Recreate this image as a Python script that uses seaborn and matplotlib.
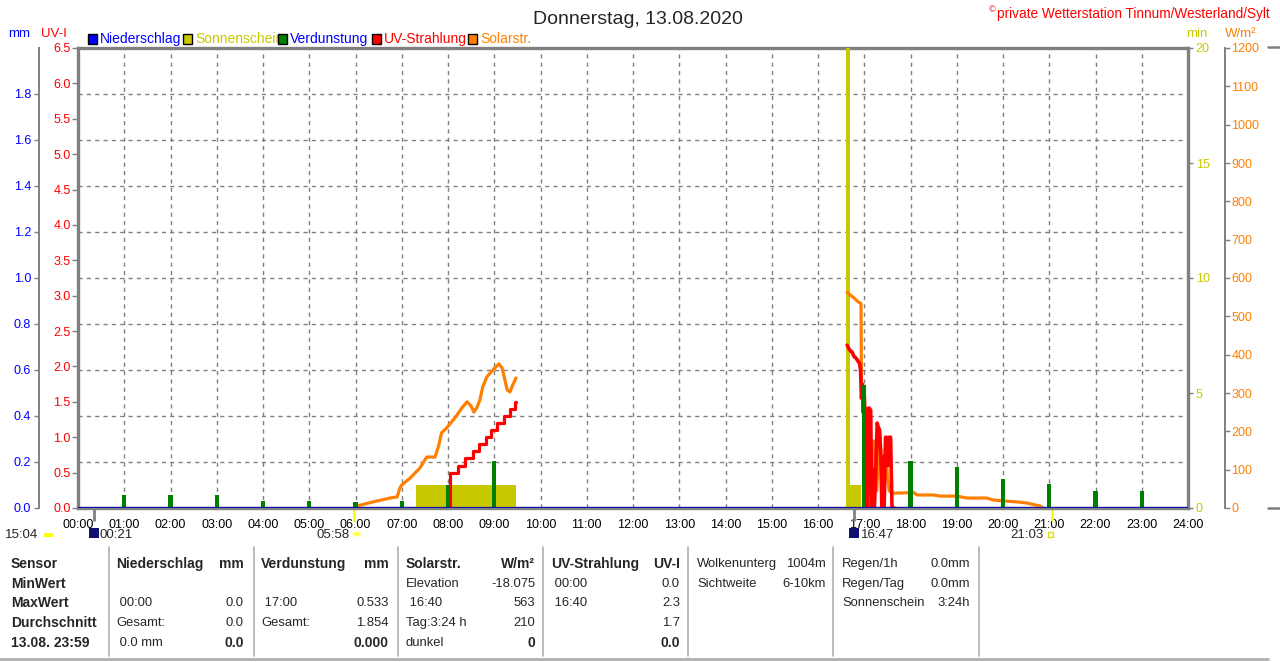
import numpy as np
import pandas as pd
import matplotlib
matplotlib.use("Agg")
import matplotlib.pyplot as plt
import matplotlib.transforms as mtransforms
from matplotlib.patches import Rectangle
from matplotlib.lines import Line2D
import seaborn as sns

# =====================================================================
# DATA (13.08.2020)
# =====================================================================
HOURS = list(range(25))
HOUR_LABELS = [f"{h:02d}:00" for h in HOURS]

MM_TICKS = [0.0, 0.2, 0.4, 0.6, 0.8, 1.0, 1.2, 1.4, 1.6, 1.8]
UV_TICKS = [0.0, 0.5, 1.0, 1.5, 2.0, 2.5, 3.0, 3.5, 4.0, 4.5, 5.0, 5.5, 6.0, 6.5]
MIN_TICKS = [0, 5, 10, 15, 20]
W_TICKS = [0, 100, 200, 300, 400, 500, 600, 700, 800, 900, 1000, 1100, 1200]

# Niederschlag (mm) - flat all day
rain_t = [0.0, 24.0]
rain_mm = [0.0, 0.0]

# Verdunstung, hourly (mm)
evap_h = [1, 2, 3, 4, 5, 6, 7, 8, 9, 17, 18, 19, 20, 21, 22, 23]
evap_mm = [0.056, 0.056, 0.056, 0.030, 0.030, 0.026, 0.030, 0.100, 0.204,
           0.533, 0.204, 0.178, 0.126, 0.104, 0.074, 0.074]

# Sonnenschein blocks (min)
sun_start = [7.31, 16.60, 16.69]
sun_end = [9.47, 16.69, 16.93]
sun_min = [1.0, 20.0, 1.0]

# Solarstrahlung (W/m²)
solar_t1 = [5.97, 6.03, 6.38, 6.75, 6.90, 6.96, 7.00, 7.18, 7.39, 7.54, 7.72, 7.79,
            7.86, 7.97, 8.15, 8.30, 8.41, 8.50, 8.56, 8.62, 8.69, 8.75, 8.84, 8.97,
            9.10, 9.17, 9.23, 9.28, 9.34, 9.40, 9.47]
solar_w1 = [0, 5, 16, 26, 29, 52, 60, 78, 104, 133, 133, 159,
            196, 209, 235, 261, 277, 266, 250, 261, 282, 316, 342, 360,
            376, 365, 334, 308, 303, 321, 339]
solar_t2 = [16.63, 16.70, 16.76, 16.82, 16.88, 16.93, 16.94, 16.97, 17.00, 17.03,
            17.06, 17.10, 17.14, 17.17, 17.20, 17.23, 17.27, 17.30, 17.33, 17.36,
            17.40, 17.44, 17.47, 17.50, 17.54, 17.60, 17.80, 17.95, 18.05, 18.14,
            18.50, 18.64, 19.00, 19.22, 19.65, 19.79, 20.04, 20.30, 20.52, 20.80, 20.87]
solar_w2 = [563, 555, 550, 543, 537, 533, 330, 270, 210, 160,
            110, 65, 45, 150, 175, 60, 45, 120, 205, 150,
            60, 130, 170, 80, 45, 39, 39, 40, 42, 34,
            34, 31, 31, 26, 26, 21, 18, 16, 13, 5, 0]

# UV-Strahlung (UV-I)
uv_t1 = [8.03, 8.04, 8.21, 8.37, 8.53, 8.68, 8.83, 8.94, 9.07, 9.21, 9.33, 9.45, 9.47]
uv_v1 = [0.0, 0.5, 0.6, 0.7, 0.8, 0.9, 1.0, 1.1, 1.2, 1.3, 1.4, 1.5, 1.5]
uv_t2 = [16.63, 16.66, 16.70, 16.74, 16.78, 16.82, 16.86, 16.90, 16.92, 16.94,
         16.96, 16.98, 17.00, 17.02, 17.04, 17.06, 17.07, 17.09, 17.11, 17.14,
         17.16, 17.18, 17.20, 17.22, 17.25, 17.28, 17.30, 17.33, 17.36, 17.38,
         17.41, 17.43, 17.46, 17.48, 17.51, 17.54, 17.57, 17.60, 17.62, 17.65]
uv_v2 = [2.30, 2.26, 2.22, 2.20, 2.14, 2.12, 2.08, 2.04, 1.95, 1.55,
         1.75, 1.35, 1.60, 1.25, 1.40, 1.29, 0.00, 1.41, 1.41, 1.38,
         0.00, 0.55, 0.00, 0.00, 0.55, 1.20, 1.15, 1.10, 0.70, 0.00,
         0.72, 0.00, 1.00, 1.00, 0.60, 1.00, 1.00, 0.00, 0.00, 0.00]

# sun / moon events on the time axis
sun_events = [5.97, 21.05]
moon_events = [0.35, 16.78]

# =====================================================================
# STYLE
# =====================================================================
sns.set_theme(style="white")
plt.rcParams['font.family'] = ['Liberation Sans', 'DejaVu Sans']

BLUE = '#0000ff'
NAVY = '#1010b0'
OLIVE = '#c8c800'
GREEN = '#008000'
RED = '#ff0000'
ORANGE = '#ff8000'
GREY = '#808080'
W, H = 1280, 662
PX = 72 / 100  # points per pixel at dpi 100


def fx(x):
    return x / W


def fy(y):
    return 1 - y / H


fig = plt.figure(figsize=(12.8, 6.62), dpi=100, facecolor='white')
ax = fig.add_axes([fx(78), fy(508), 1110 / W, 460 / H])  # mm axis + grid
ax_min = ax.twinx()
ax_w = ax.twinx()
ax_uv = ax.twinx()
ax_ev = ax.twinx()
for z, a in enumerate([ax, ax_min, ax_w, ax_uv, ax_ev]):
    a.set_zorder(z)
    a.patch.set_visible(False)
    for s in a.spines.values():
        s.set_visible(False)
ax.patch.set_visible(True)
ax.patch.set_facecolor('white')

# =====================================================================
# MARKS
# =====================================================================
ax_min.bar(sun_start, sun_min, width=np.array(sun_end) - np.array(sun_start),
           align='edge', color=OLIVE, linewidth=0)

df_s1 = pd.DataFrame({'t': solar_t1, 'w': solar_w1})
df_s2 = pd.DataFrame({'t': solar_t2, 'w': solar_w2})
sns.lineplot(data=df_s1, x='t', y='w', ax=ax_w, color=ORANGE, linewidth=2.3, estimator=None)
sns.lineplot(data=df_s2, x='t', y='w', ax=ax_w, color=ORANGE, linewidth=2.3, estimator=None)

df_u1 = pd.DataFrame({'t': uv_t1, 'uv': uv_v1})
df_u2 = pd.DataFrame({'t': uv_t2, 'uv': uv_v2})
sns.lineplot(data=df_u1, x='t', y='uv', ax=ax_uv, color=RED, linewidth=2.3,
             estimator=None, drawstyle='steps-post')
sns.lineplot(data=df_u2, x='t', y='uv', ax=ax_uv, color=RED, linewidth=2.6, estimator=None)

ax_ev.bar(evap_h, evap_mm, width=0.09, color=GREEN, linewidth=0)
sns.lineplot(x=rain_t, y=rain_mm, ax=ax_ev, color=NAVY, linewidth=1.6, estimator=None)

# =====================================================================
# AXES
# =====================================================================
for a in [ax, ax_min, ax_w, ax_uv, ax_ev]:
    a.set_xlim(0, 24)
    a.set_xlabel('')
    a.set_ylabel('')
ax.set_ylim(0, 2.0)
ax_ev.set_ylim(0, 2.0)
ax_uv.set_ylim(0, 6.5)
ax_min.set_ylim(0, 20)
ax_w.set_ylim(0, 1200)

ax.set_xticks(HOURS)
ax.set_xticklabels(HOUR_LABELS)
ax.tick_params(axis='x', length=0, pad=8, labelsize=9, labelcolor='black')

ax.set_yticks(MM_TICKS)
ax.set_yticklabels([f"{v:.1f}" for v in MM_TICKS])
ax.spines['left'].set_visible(True)
ax.spines['left'].set_position(('outward', 39 * PX))
ax.spines['left'].set_color(GREY)
ax.spines['left'].set_linewidth(1.4)
for side in ['top', 'bottom']:
    ax.spines[side].set_visible(True)
    ax.spines[side].set_color(GREY)
    ax.spines[side].set_linewidth(2.4)
ax.tick_params(axis='y', left=True, length=5 * PX, width=1, color=GREY, pad=2,
               labelsize=9, labelcolor=BLUE)
ax.grid(True, color=GREY, linestyle=(0, (3, 3)), linewidth=1)

ax_uv.yaxis.tick_left()
ax_uv.set_yticks(UV_TICKS)
ax_uv.set_yticklabels([f"{v:.1f}" for v in UV_TICKS])
ax_uv.spines['left'].set_visible(True)
ax_uv.spines['left'].set_color(GREY)
ax_uv.spines['left'].set_linewidth(2.4)
ax_uv.tick_params(axis='y', left=True, right=False, length=6 * PX, width=1, color=GREY,
                  pad=1, labelsize=9, labelcolor=RED)

ax_min.yaxis.tick_right()
ax_min.set_yticks(MIN_TICKS)
ax_min.spines['right'].set_visible(True)
ax_min.spines['right'].set_color(GREY)
ax_min.spines['right'].set_linewidth(2.4)
ax_min.tick_params(axis='y', right=True, length=5 * PX, width=1, color=GREY, pad=2,
                   labelsize=9, labelcolor=OLIVE)

ax_w.yaxis.tick_right()
ax_w.set_yticks(W_TICKS)
ax_w.spines['right'].set_visible(True)
ax_w.spines['right'].set_position(('outward', 37 * PX))
ax_w.spines['right'].set_color(GREY)
ax_w.spines['right'].set_linewidth(1.4)
ax_w.tick_params(axis='y', right=True, length=5 * PX, width=1, color=GREY, pad=1,
                 labelsize=9, labelcolor=ORANGE)

ax_ev.set_yticks([])

# event markers just below the time axis
trans = mtransforms.blended_transform_factory(ax.transData, ax.transAxes)
for t in sun_events:
    ax.add_line(Line2D([t, t], [0, -0.026], transform=trans, color='#ffff00',
                       linewidth=2, clip_on=False))
for t in moon_events:
    ax.add_line(Line2D([t, t], [0, -0.026], transform=trans, color=GREY,
                       linewidth=2, clip_on=False))

# =====================================================================
# HEADER TEXT + LEGEND
# =====================================================================
fig.text(0.498, fy(19), "Donnerstag, 13.08.2020", ha='center', va='center', fontsize=14)
fig.text(fx(989), fy(10), "©", ha='left', va='center', fontsize=6.5, color=RED)
fig.text(fx(997), fy(14), "private Wetterstation Tinnum/Westerland/Sylt", ha='left',
         va='center', fontsize=9.8, color=RED)

fig.text(fx(8), fy(34), "mm", ha='left', va='center', fontsize=9.5, color=BLUE)
fig.text(fx(41), fy(34), "UV-I", ha='left', va='center', fontsize=9.5, color=RED)
fig.text(fx(1197), fy(34), "min", ha='center', va='center', fontsize=9.5, color=OLIVE)
fig.text(fx(1241), fy(34), "W/m²", ha='center', va='center', fontsize=9.5, color=ORANGE)

legend_items = [(88, BLUE, "Niederschlag", BLUE), (183, OLIVE, "Sonnenschein", OLIVE),
                (278, GREEN, "Verdunstung", BLUE), (372, RED, "UV-Strahlung", RED),
                (468, ORANGE, "Solarstr.", ORANGE)]
for x0, fc, label, tc in legend_items:
    fig.text(fx(x0 + 12), fy(39), label, ha='left', va='center', fontsize=10, color=tc)
    fig.add_artist(Rectangle((fx(x0), fy(44)), 9 / W, 10 / H, transform=fig.transFigure,
                             facecolor=fc, edgecolor='black', linewidth=1, zorder=10))

# little grey stubs right of the plot
for yy in [47, 508]:
    fig.add_artist(Line2D([fx(1268), fx(1280)], [fy(yy), fy(yy)], color=GREY, linewidth=1.8))

# =====================================================================
# SUN / MOON TIMES
# =====================================================================
fig.text(fx(5), fy(535), "15:04", ha='left', va='center', fontsize=9.5)
fig.add_artist(Rectangle((fx(44), fy(537)), 9 / W, 4 / H, transform=fig.transFigure,
                         facecolor='#ffff00', edgecolor='none'))
fig.add_artist(Rectangle((fx(89), fy(538)), 10 / W, 10 / H, transform=fig.transFigure,
                         facecolor='#101070', edgecolor='none'))
fig.text(fx(100), fy(535), "00:21", ha='left', va='center', fontsize=9.5)
fig.text(fx(350), fy(535), "05:58", ha='right', va='center', fontsize=9.5)
fig.add_artist(plt.Circle((fx(357), fy(534)), 4 / W, transform=fig.transFigure,
                          facecolor='#ffff40', edgecolor='#ffffa0'))
fig.add_artist(Rectangle((fx(849), fy(538)), 10 / W, 10 / H, transform=fig.transFigure,
                         facecolor='#101070', edgecolor='none'))
fig.text(fx(861), fy(535), "16:47", ha='left', va='center', fontsize=9.5)
fig.text(fx(1044), fy(535), "21:03", ha='right', va='center', fontsize=9.5)
fig.add_artist(Rectangle((fx(1048), fy(537)), 5 / W, 5 / H, transform=fig.transFigure,
                         facecolor='none', edgecolor='#e0e000', linewidth=1))

# =====================================================================
# SUMMARY TABLE
# =====================================================================
ROWS = [564, 584, 603, 623, 643]
FS, FS_B = 9.4, 10
for xs in [109, 254, 398, 543, 688, 833, 979]:
    fig.add_artist(Line2D([fx(xs), fx(xs)], [fy(547), fy(656)], color='#b0b0b0', linewidth=1.2))
fig.add_artist(Line2D([0, fx(1268)], [fy(659), fy(659)], color='#b0b0b0', linewidth=2))

for i, lab in enumerate(["Sensor", "MinWert", "MaxWert", "Durchschnitt", "13.08. 23:59"]):
    fig.text(fx(11), fy(ROWS[i]), lab, ha='left', va='center', fontsize=FS_B, fontweight='bold')

# (left x, right x, [(row, left text, right text, bold)])
table_cols = [
    (116, 244, [(0, "Niederschlag", "mm", True), (2, " 00:00", "0.0", False),
                (3, "Gesamt:", "0.0", False), (4, " 0.0 mm", "", False)]),
    (261, 389, [(0, "Verdunstung", "mm", True), (2, " 17:00", "0.533", False),
                (3, "Gesamt:", "1.854", False)]),
    (406, 535, [(0, "Solarstr.", "W/m²", True), (1, "Elevation", "-18.075", False),
                (2, " 16:40", "563", False), (3, "Tag:3:24 h", "210", False),
                (4, "dunkel", "", False)]),
    (551, 680, [(0, "UV-Strahlung", "UV-I", True), (1, " 00:00", "0.0", False),
                (2, " 16:40", "2.3", False), (3, "", "1.7", False)]),
    (697, 826, [(0, "Wolkenunterg", "1004m", False), (1, "Sichtweite", "6-10km", False)]),
    (842, 970, [(0, "Regen/1h", "0.0mm", False), (1, "Regen/Tag", "0.0mm", False),
                (2, "Sonnenschein", "3:24h", False)]),
]
last_row_bold = {244: "0.0", 389: "0.000", 535: "0", 680: "0.0"}
for xl, xr, cells in table_cols:
    for r, left, right, bold in cells:
        w = 'bold' if bold else 'normal'
        fs = FS_B if bold else FS
        fig.text(fx(xl), fy(ROWS[r]), left, ha='left', va='center', fontsize=fs, fontweight=w)
        fig.text(fx(xr), fy(ROWS[r]), right, ha='right', va='center', fontsize=fs, fontweight=w)
    if xr in last_row_bold:
        fig.text(fx(xr), fy(ROWS[4]), last_row_bold[xr], ha='right', va='center',
                 fontsize=FS_B, fontweight='bold')

fig.savefig("out.png", dpi=100, facecolor='white')
